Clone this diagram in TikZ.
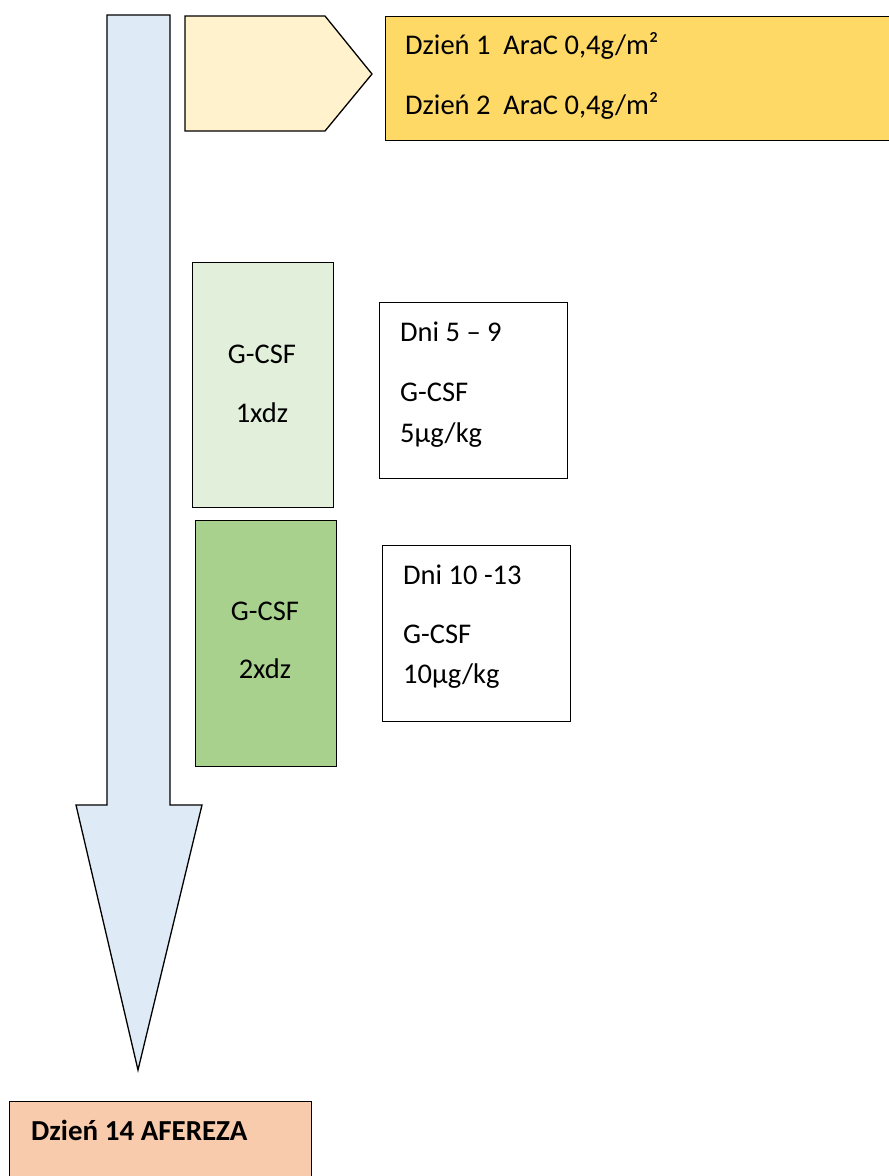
\documentclass[tikz,border=0pt]{standalone}
\usepackage{fontspec}
\setmainfont{Carlito}
\definecolor{arrowblue}{HTML}{DEEBF7}
\definecolor{paleyellow}{HTML}{FFF2CC}
\definecolor{gold}{HTML}{FFD966}
\definecolor{palegreen}{HTML}{E2EFDA}
\definecolor{midgreen}{HTML}{A9D18E}
\definecolor{peach}{HTML}{F8CBAD}
\tikzset{
  outline/.style={draw=black, line width=1.3pt, line join=miter},
  panel/.style={outline, rectangle, anchor=north west, inner sep=0pt},
  label/.style={inner sep=0pt, anchor=base west, font=\fontsize{28.5}{34}\selectfont},
  clabel/.style={inner sep=0pt, anchor=base, font=\fontsize{28.5}{34}\selectfont},
}
\begin{document}
\begin{tikzpicture}[x=1pt, y=-1pt]
\useasboundingbox (0,0) rectangle (889,1176);

% timeline arrow
\draw[outline, fill=arrowblue]
  (107,15) -- (170,15) -- (170,805) -- (202,805) -- (138,1070)
  -- (76,805) -- (107,805) -- cycle;

% chevron pointing to the induction days
\draw[outline, fill=paleyellow]
  (185,16) -- (325,16) -- (372,74) -- (325,131) -- (185,131) -- cycle;

% induction box
\node[panel, fill=gold, minimum width=504pt, minimum height=124pt] (arac) at (385,16) {};
\node[label] (day1) at (405,54) {Dzień 1\ \ AraC 0,4g/m²};
\node[label] (day2) at (405,114) {Dzień 2\ \ AraC 0,4g/m²};

% G-CSF once daily
\node[panel, fill=palegreen, minimum width=141pt, minimum height=245pt] (g1) at (192,262) {};
\node[clabel] (g1a) at (262,363) {G-CSF};
\node[clabel] (g1b) at (262,422) {1xdz};

\node[panel, fill=white, minimum width=188pt, minimum height=176pt] (d1) at (379,302) {};
\node[label] (d1a) at (400,341) {Dni 5 – 9};
\node[label] (d1b) at (400,401) {G-CSF};
\node[label] (d1c) at (400,442) {5µg/kg};

% G-CSF twice daily
\node[panel, fill=midgreen, minimum width=141pt, minimum height=246pt] (g2) at (195,520) {};
\node[clabel] (g2a) at (265,620) {G-CSF};
\node[clabel] (g2b) at (265,678) {2xdz};

\node[panel, fill=white, minimum width=188pt, minimum height=176pt] (d2) at (382,545) {};
\node[label] (d2a) at (403,584) {Dni 10 -13};
\node[label] (d2b) at (403,643) {G-CSF};
\node[label] (d2c) at (403,683) {10µg/kg};

% apheresis
\node[panel, fill=peach, minimum width=302pt, minimum height=80pt] (af) at (9,1101) {};
\node[label, font=\fontsize{29}{34}\selectfont\bfseries] (afa) at (31,1140) {Dzień 14 AFEREZA};
\end{tikzpicture}
\end{document}
